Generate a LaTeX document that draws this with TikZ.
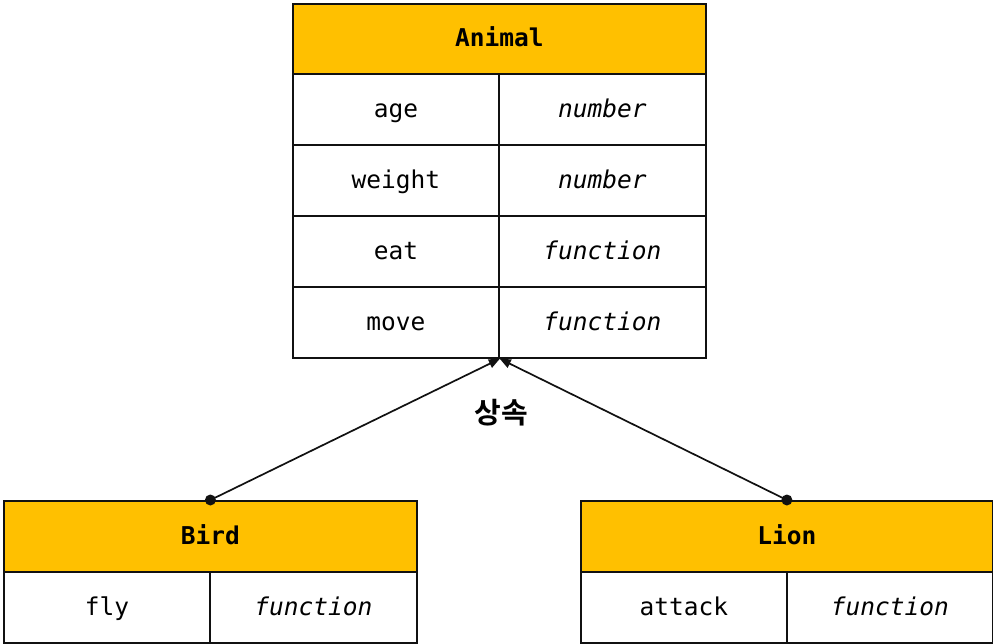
\documentclass[tikz,border=0pt]{standalone}
\usepackage{fontspec}
\setmonofont{DejaVu Sans Mono}
\newfontfamily\kofont{Noto Sans CJK KR Bold}
\usetikzlibrary{arrows.meta}
\definecolor{hdr}{HTML}{FFC000}
\definecolor{edge}{HTML}{111111}
\begin{document}
\begin{tikzpicture}[x=1pt,y=-1pt,
  cell/.style={draw=edge, line width=1.8pt, minimum height=71pt, inner sep=0pt, anchor=north west,
    text height=18pt, text depth=2pt,
    font=\ttfamily\fontsize{24.5}{28}\selectfont},
  wide/.style={minimum width=#1},
  head/.style={cell, fill=hdr, font=\ttfamily\bfseries\fontsize{24.5}{28}\selectfont},
  typ/.style={cell, font=\ttfamily\itshape\fontsize{24.5}{28}\selectfont},
  inherit/.style={draw=edge, line width=1.7pt, -{Triangle[length=11pt,width=9pt]}},
  dot/.style={fill=edge},
  lbl/.style={font=\kofont\fontsize{29}{32}\selectfont}]
\fill[white] (0,0) rectangle (993,643);
\useasboundingbox (0,0) rectangle (993,643);
% Animal
\node[head, wide=413pt, minimum height=70pt] (animal) at (292,3) {Animal};
\node[cell, wide=206pt] (age) at (292,73) {age};
\node[typ, wide=207pt] (aget) at (498,73) {number};
\node[cell, wide=206pt] (weight) at (292,144) {weight};
\node[typ, wide=207pt] (weightt) at (498,144) {number};
\node[cell, wide=206pt] (eat) at (292,215) {eat};
\node[typ, wide=207pt] (eatt) at (498,215) {function};
\node[cell, wide=206pt] (move) at (292,286) {move};
\node[typ, wide=207pt] (movet) at (498,286) {function};
% Bird
\node[head, wide=413pt] (bird) at (3,500) {Bird};
\node[cell, wide=206pt] (fly) at (3,571) {fly};
\node[typ, wide=207pt] (flyt) at (209,571) {function};
% Lion
\node[head, wide=412pt] (lion) at (580,500) {Lion};
\node[cell, wide=206pt] (attack) at (580,571) {attack};
\node[typ, wide=206pt] (attackt) at (786,571) {function};
% connectors
\coordinate (base) at (move.south east);
\draw[inherit] (bird.north) -- (base);
\draw[inherit] (lion.north) -- (base);
\fill[dot] (bird.north) circle (5.5pt);
\fill[dot] (lion.north) circle (5.5pt);
\node[lbl] (label) at (501,413) {상속};
\end{tikzpicture}
\end{document}
